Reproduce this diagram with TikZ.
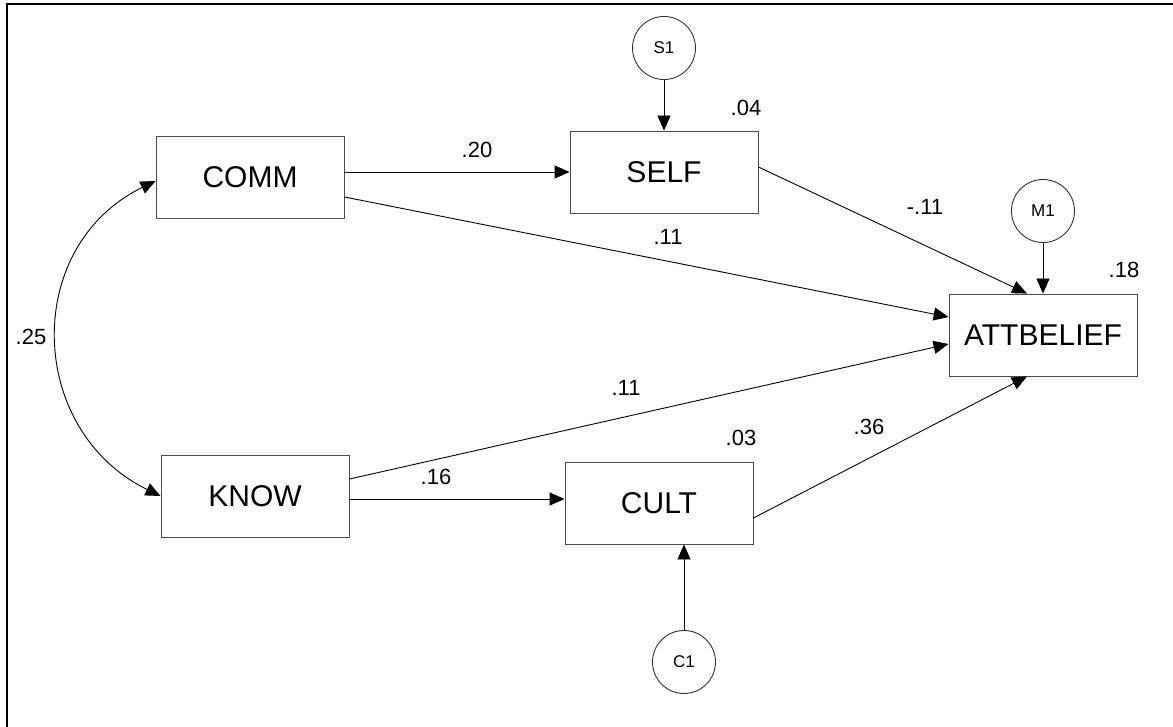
\documentclass[tikz,border=0pt]{standalone}
\usepackage{fontspec}
\setmainfont{Liberation Sans}
\usepackage{tikz}
\usetikzlibrary{positioning, calc, arrows.meta}

\tikzset{
    var/.style = {draw=black!70, line width=0.9pt, minimum width=188pt, minimum height=82pt, inner sep=0pt, font=\fontsize{30}{35}\selectfont},
    err/.style = {draw=black!80, circle, line width=0.9pt, minimum size=63pt, inner sep=0pt, font=\fontsize{17}{20}\selectfont},
    coef/.style = {inner sep=0pt, font=\fontsize{22}{26}\selectfont},
    path/.style = {line width=0.9pt, -{Triangle[length=15pt, width=13pt]}},
    cov/.style = {line width=0.9pt, {Triangle[length=15pt, width=13pt]}-{Triangle[length=15pt, width=13pt]}}
}

\begin{document}
\begin{tikzpicture}[x=1pt, y=-1pt]
                    \useasboundingbox (0,0) rectangle (1173,727);
                    \draw[line width=2.5pt] (7,727) -- (7,4) -- (1173,4);

                    \node[var] (COMM) at (250,177) {COMM};
                    \node[var] (SELF) at (664,172) {SELF};
                    \node[var] (KNOW) at (255,496) {KNOW};
                    \node[var] (CULT) at (659,503) {CULT};
                    \node[var] (ATT) at (1043,335) {ATTBELIEF};
                    \node[err] (S1) at (664,48) {S1};
                    \node[err] (M1) at (1043,211) {M1};
                    \node[err] (C1) at (684,662) {C1};

                    \draw[path] (S1) -- (SELF);
                    \draw[path] (M1) -- (ATT);
                    \draw[path] (C1.north) -- (C1.north |- CULT.south);
                    \draw[path] (COMM.east |- SELF.west) -- (SELF.west);
                    \draw[path] ([yshift=-3pt]KNOW.east) -- ([yshift=-3pt]KNOW.east -| CULT.west);
                    \draw[path] ([yshift=-20pt]COMM.east) -- ([yshift=18pt]ATT.west);
                    \draw[path] ([yshift=5pt]SELF.east) -- ([xshift=-16pt]ATT.north);
                    \draw[path] ([yshift=17pt]KNOW.east) -- ([yshift=-9pt]ATT.west);
                    \draw[path] ([yshift=-15pt]CULT.east) -- ([xshift=-16pt]ATT.south);
                    \draw[cov] ([yshift=-4pt]COMM.west) to[out=206, in=154, distance=149pt] (KNOW.west);

                    \node[coef] (r2self) at (746,108) {.04};
                    \node[coef] (r2att) at (1124,270) {.18};
                    \node[coef] (r2cult) at (741,438) {.03};
                    \node[coef] (b1) at (477,150) {.20};
                    \node[coef] (b2) at (668,237) {.11};
                    \node[coef] (b3) at (925,207) {-.11};
                    \node[coef] (b4) at (626,388) {.11};
                    \node[coef] (b5) at (436,477) {.16};
                    \node[coef] (b6) at (869,427) {.36};
                    \node[coef] (cov) at (31,337) {.25};
                \end{tikzpicture}
\end{document}
